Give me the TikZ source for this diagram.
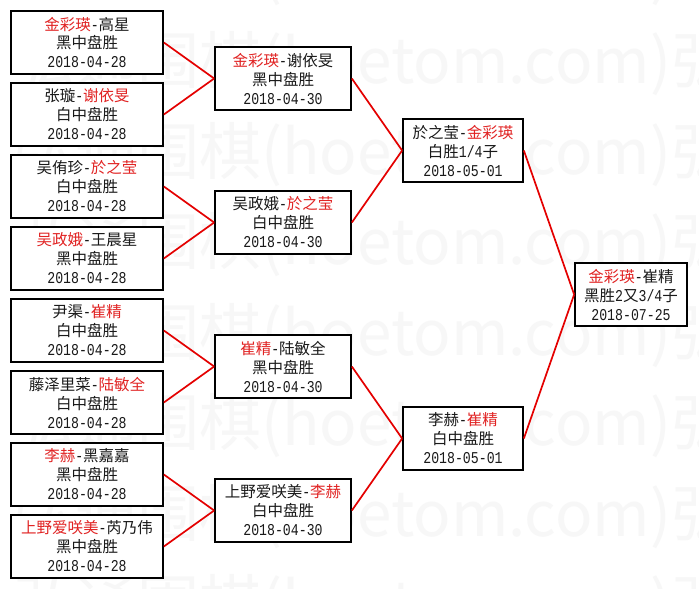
\documentclass[tikz,border=0pt]{standalone}
\usepackage{fontspec}
\setmainfont{Noto Sans CJK SC}
\newfontfamily\monof[FakeStretch=0.8]{Liberation Mono}
\definecolor{wred}{RGB}{225,35,35}
\definecolor{lred}{RGB}{228,0,0}
\definecolor{txt}{RGB}{25,25,25}
\definecolor{wm}{RGB}{247,247,247}
\newcommand\rd[1]{\textcolor{wred}{#1}}
\newcommand\hy{{\monof\fontsize{16.5}{19}\selectfont -}}
\newcommand\dt[1]{{\monof\fontsize{16.5}{19}\selectfont #1}}
\begin{document}
\begin{tikzpicture}[x=1pt,y=-1pt,
  box/.style={draw=black, fill=white, line width=1.7pt, align=center, inner sep=0pt,
    font=\fontsize{15.5}{19}\selectfont, text=txt, minimum height=63pt},
  rone/.style={box, minimum width=152pt},
  rtwo/.style={box, minimum width=136pt},
  rthree/.style={box, minimum width=120pt},
  rfin/.style={box, minimum width=112pt},
  link/.style={draw=lred, line width=1.7pt},
  wmark/.style={anchor=west, inner sep=0pt, text=wm, font=\fontsize{62}{62}\selectfont}]
\useasboundingbox[fill=white] (0,0) rectangle (699,589);
\begin{scope}
\clip (0,0) rectangle (699,589);
\foreach \yy [count=\i] in {-26.5,64,154.5,245,335.5,426,516.5,607}
  \node[wmark] (wm\i) at (13,\yy) {弘通围棋(hoetom.com)弘通围棋(hoetom.com)};
\end{scope}
% round 1
\node[rone] (a1) at (87,42.5)  {\rd{金彩瑛}\hy 高星\\黑中盘胜\\\dt{2018-04-28}};
\node[rone] (a2) at (87,114.5) {张璇\hy\rd{谢依旻}\\白中盘胜\\\dt{2018-04-28}};
\node[rone] (a3) at (87,186.5) {吴侑珍\hy\rd{於之莹}\\白中盘胜\\\dt{2018-04-28}};
\node[rone] (a4) at (87,258.5) {\rd{吴政娥}\hy 王晨星\\黑中盘胜\\\dt{2018-04-28}};
\node[rone] (a5) at (87,330.5) {尹渠\hy\rd{崔精}\\白中盘胜\\\dt{2018-04-28}};
\node[rone] (a6) at (87,402.5) {藤泽里菜\hy\rd{陆敏全}\\白中盘胜\\\dt{2018-04-28}};
\node[rone] (a7) at (87,474.5) {\rd{李赫}\hy 黑嘉嘉\\黑中盘胜\\\dt{2018-04-28}};
\node[rone] (a8) at (87,546.5) {\rd{上野爱咲美}\hy 芮乃伟\\黑中盘胜\\\dt{2018-04-28}};
% round 2
\node[rtwo] (b1) at (283,78.5)  {\rd{金彩瑛}\hy 谢依旻\\黑中盘胜\\\dt{2018-04-30}};
\node[rtwo] (b2) at (283,222.5) {吴政娥\hy\rd{於之莹}\\白中盘胜\\\dt{2018-04-30}};
\node[rtwo] (b3) at (283,366.5) {\rd{崔精}\hy 陆敏全\\黑中盘胜\\\dt{2018-04-30}};
\node[rtwo] (b4) at (283,510.5) {上野爱咲美\hy\rd{李赫}\\白中盘胜\\\dt{2018-04-30}};
% round 3
\node[rthree] (c1) at (463,150.5) {於之莹\hy\rd{金彩瑛}\\白胜\dt{1/4}子\\\dt{2018-05-01}};
\node[rthree] (c2) at (463,438.5) {李赫\hy\rd{崔精}\\白中盘胜\\\dt{2018-05-01}};
% final
\node[rfin] (d1) at (631,294.5) {\rd{金彩瑛}\hy 崔精\\黑胜\dt{2}又\dt{3/4}子\\\dt{2018-07-25}};
% connectors
\draw[link] (a1.east) -- (b1.west);
\draw[link] (a2.east) -- (b1.west);
\draw[link] (a3.east) -- (b2.west);
\draw[link] (a4.east) -- (b2.west);
\draw[link] (a5.east) -- (b3.west);
\draw[link] (a6.east) -- (b3.west);
\draw[link] (a7.east) -- (b4.west);
\draw[link] (a8.east) -- (b4.west);
\draw[link] (b1.east) -- (c1.west);
\draw[link] (b2.east) -- (c1.west);
\draw[link] (b3.east) -- (c2.west);
\draw[link] (b4.east) -- (c2.west);
\draw[link] (c1.east) -- (d1.west);
\draw[link] (c2.east) -- (d1.west);
\end{tikzpicture}
\end{document}
